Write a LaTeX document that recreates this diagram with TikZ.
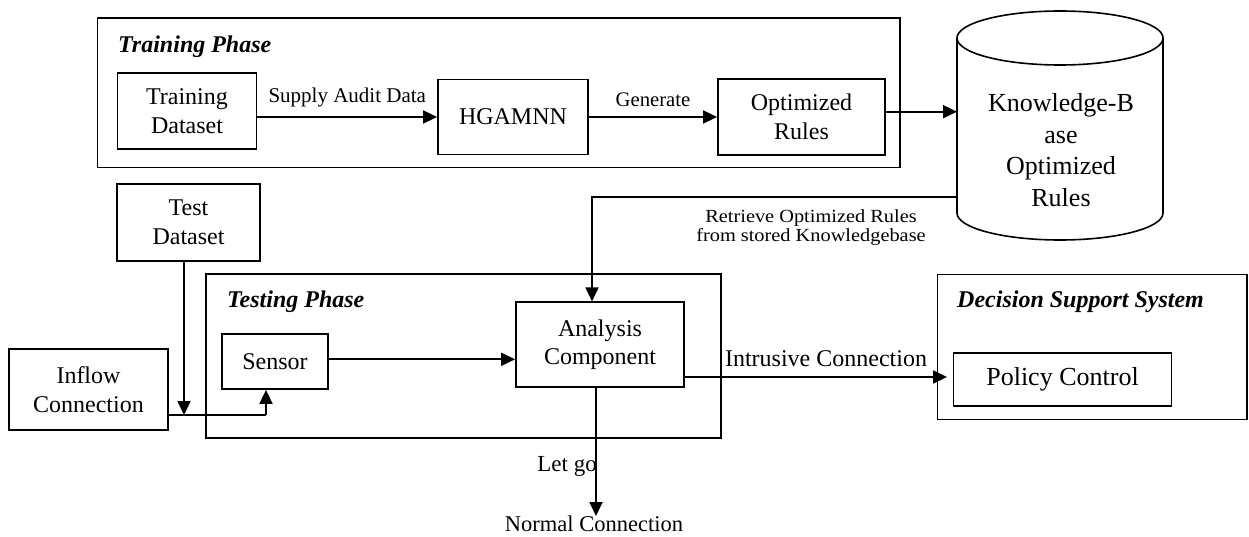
\documentclass[tikz,border=0pt]{standalone}
\usepackage{fontspec}
\setmainfont{Liberation Serif}
\newfontfamily\widefont[FakeStretch=1.1]{Liberation Serif}
\usetikzlibrary{arrows.meta,calc}
\tikzset{
  box/.style={draw, line width=1.8pt, align=center, inner sep=0pt, font=\fontsize{24pt}{28.8pt}\selectfont},
  frame/.style={draw, line width=1.8pt},
  arr/.style={line width=1.8pt, -{Triangle[length=14pt,width=13pt]}},
  plain/.style={line width=1.8pt},
  lab/.style={inner sep=0pt, align=center},
  ttl/.style={inner sep=0pt, anchor=west, font=\fontsize{24pt}{28pt}\selectfont\bfseries\itshape}
}
\begin{document}
\begin{tikzpicture}[x=1pt,y=-1pt]
\useasboundingbox (0,0) rectangle (1249,537);
% Training phase frame
\draw[frame] (97.5,17.7) rectangle (899.6,167.5);
\node[ttl] (trt) at (118,46.7) {Training Phase};
\node[box, minimum width=139pt, minimum height=76pt] (td) at (187,111.3) {Training\\Dataset};
\node[box, minimum width=150pt, minimum height=75pt] (hg) at (513,117) {HGAMNN};
\node[box, minimum width=167pt, minimum height=76pt] (opt) at (801.5,117) {Optimized\\Rules};
% cylinder
\draw[line width=1.6pt] (957,38) -- (957,213) arc[start angle=180,end angle=360,x radius=103,y radius=-27] -- (1163,38);
\draw[line width=1.6pt] (1060,38) ellipse[x radius=103, y radius=27];
\node[lab, minimum width=206pt, minimum height=202pt, font=\fontsize{26pt}{31.7pt}\selectfont] (kb) at (1061,150) {Knowledge-B\\ase\\Optimized\\Rules};
% training arrows
\draw[arr] (td.east |- hg.west) -- (hg.west) node[lab, midway, above=9pt, font=\fontsize{21pt}{25pt}\selectfont] (sad) {Supply Audit Data};
\draw[arr] (hg.east) -- (opt.west) node[lab, midway, above=9pt, font=\fontsize{20.7pt}{25pt}\selectfont] (gen) {Generate};
\coordinate (okb) at (957,111.7);
\draw[arr] (opt.east |- okb) -- (okb);
% test dataset and inflow
\node[box, minimum width=143pt, minimum height=77pt] (tds) at (188.5,222.5) {Test\\Dataset};
\node[box, minimum width=159pt, minimum height=81pt] (inf) at (88.5,389.5) {Inflow\\Connection};
% testing phase
\draw[frame] (206,274) rectangle (721,438);
\node[ttl] (tst) at (227,301.7) {Testing Phase};
\node[box, minimum width=106pt, minimum height=55pt] (sen) at (275,361.5) {Sensor};
\node[box, minimum width=168pt, minimum height=85pt] (ana) at (600,344.8) {Analysis\\Component};
% retrieve
\coordinate (rc) at (592,197);
\draw[arr] (okb |- rc) -- (rc) -- (rc |- ana.north);
\node[lab, font=\widefont\fontsize{18.5pt}{19pt}\selectfont] (ret) at (811,227.5) {Retrieve Optimized Rules\\from stored Knowledgebase};
\coordinate (j) at (184,415);
\coordinate (k) at (266,415);
\draw[arr] (tds.south -| j) -- (j);
\draw[plain] (inf.east |- j) -- (k);
\draw[arr] (k) -- (k |- sen.south);
\draw[arr] (sen.east |- 0,359.3) -- (ana.west |- 0,359.3);
% decision support
\draw[frame] (937.5,274.5) rectangle (1247,419.5);
\node[ttl] (dst) at (957,302.2) {Decision Support System};
\node[box, minimum width=218pt, minimum height=53pt, font=\fontsize{26pt}{30pt}\selectfont] (pol) at (1062.5,379.3) {Policy Control};
\coordinate (it) at (947,377);
\draw[arr] (ana.east |- it) -- (it);
\node[lab, font=\fontsize{24pt}{28pt}\selectfont] (ilab) at (826,358.3) {Intrusive Connection};
% let go
\node[lab, anchor=north, font=\fontsize{22.5pt}{27pt}\selectfont] (nc) at (594,516) {Normal Connection};
\draw[arr] (ana.south -| 596,0) -- (nc.north -| 596,0);
\node[lab, anchor=east, font=\fontsize{23pt}{27pt}\selectfont] (lg) at (597,466) {Let go};
\end{tikzpicture}
\end{document}
